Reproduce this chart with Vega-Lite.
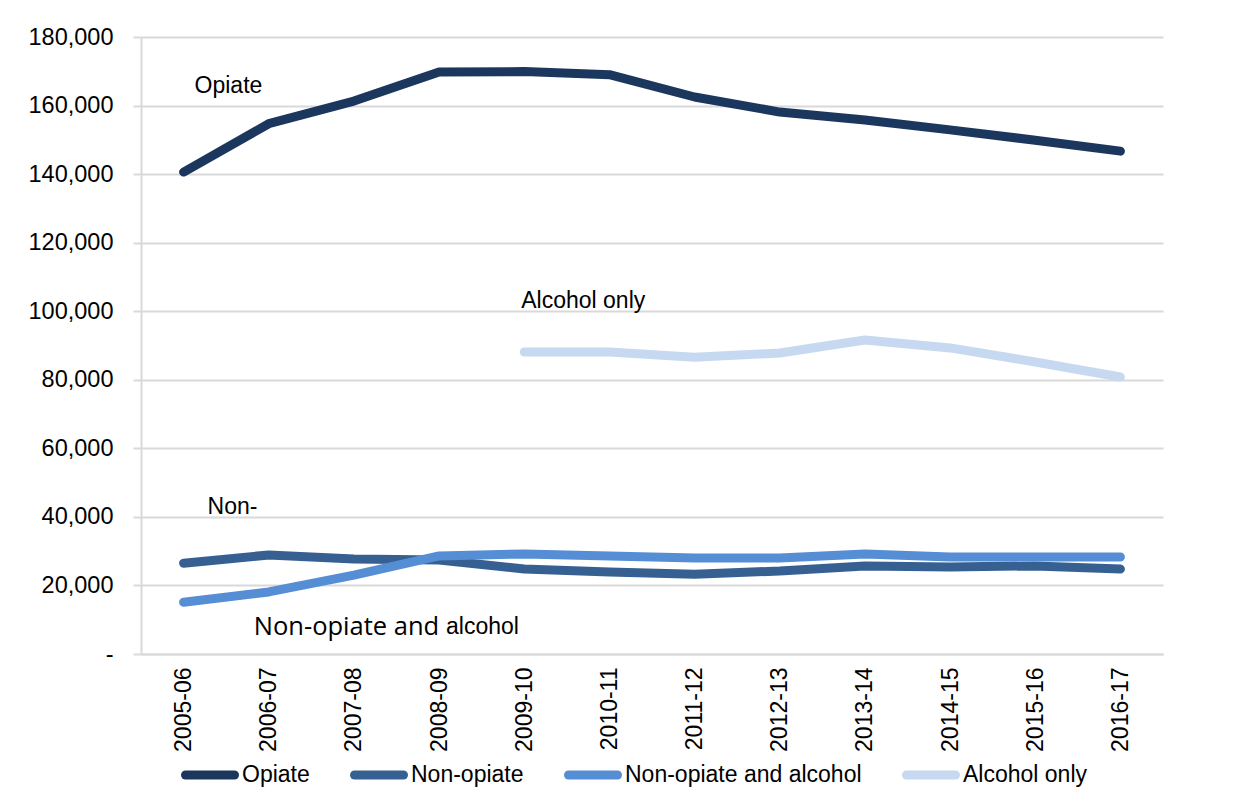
{
  "$schema": "https://vega.github.io/schema/vega-lite/v6.json",
  "autosize": "none",
  "width": 1022,
  "height": 617,
  "padding": {"left": 141, "top": 37, "right": 81, "bottom": 153},
  "background": "white",
  "config": {
    "view": {"stroke": null},
    "font": "Liberation Sans",
    "axis": {
      "labelFont": "Liberation Sans",
      "labelColor": "#000000",
      "domainColor": "#d9d9d9",
      "domainWidth": 2,
      "tickColor": "#d9d9d9",
      "tickWidth": 2,
      "gridColor": "#d9d9d9",
      "gridWidth": 2,
      "title": null
    }
  },
  "datasets": {
    "series": [
      {"period": "2005-06", "group": "Opiate", "count": 140600},
      {"period": "2006-07", "group": "Opiate", "count": 154700},
      {"period": "2007-08", "group": "Opiate", "count": 161300},
      {"period": "2008-09", "group": "Opiate", "count": 169800},
      {"period": "2009-10", "group": "Opiate", "count": 169900},
      {"period": "2010-11", "group": "Opiate", "count": 169000},
      {"period": "2011-12", "group": "Opiate", "count": 162500},
      {"period": "2012-13", "group": "Opiate", "count": 158100},
      {"period": "2013-14", "group": "Opiate", "count": 155800},
      {"period": "2014-15", "group": "Opiate", "count": 152900},
      {"period": "2015-16", "group": "Opiate", "count": 149900},
      {"period": "2016-17", "group": "Opiate", "count": 146700},
      {"period": "2005-06", "group": "Non-opiate", "count": 26500},
      {"period": "2006-07", "group": "Non-opiate", "count": 28900},
      {"period": "2007-08", "group": "Non-opiate", "count": 27700},
      {"period": "2008-09", "group": "Non-opiate", "count": 27400},
      {"period": "2009-10", "group": "Non-opiate", "count": 24800},
      {"period": "2010-11", "group": "Non-opiate", "count": 23900},
      {"period": "2011-12", "group": "Non-opiate", "count": 23300},
      {"period": "2012-13", "group": "Non-opiate", "count": 24200},
      {"period": "2013-14", "group": "Non-opiate", "count": 25700},
      {"period": "2014-15", "group": "Non-opiate", "count": 25400},
      {"period": "2015-16", "group": "Non-opiate", "count": 25700},
      {"period": "2016-17", "group": "Non-opiate", "count": 24800},
      {"period": "2005-06", "group": "Non-opiate and alcohol", "count": 15100},
      {"period": "2006-07", "group": "Non-opiate and alcohol", "count": 18100},
      {"period": "2007-08", "group": "Non-opiate and alcohol", "count": 23000},
      {"period": "2008-09", "group": "Non-opiate and alcohol", "count": 28600},
      {"period": "2009-10", "group": "Non-opiate and alcohol", "count": 29200},
      {"period": "2010-11", "group": "Non-opiate and alcohol", "count": 28600},
      {"period": "2011-12", "group": "Non-opiate and alcohol", "count": 28000},
      {"period": "2012-13", "group": "Non-opiate and alcohol", "count": 28000},
      {"period": "2013-14", "group": "Non-opiate and alcohol", "count": 29200},
      {"period": "2014-15", "group": "Non-opiate and alcohol", "count": 28300},
      {"period": "2015-16", "group": "Non-opiate and alcohol", "count": 28300},
      {"period": "2016-17", "group": "Non-opiate and alcohol", "count": 28300},
      {"period": "2009-10", "group": "Alcohol only", "count": 88100},
      {"period": "2010-11", "group": "Alcohol only", "count": 88100},
      {"period": "2011-12", "group": "Alcohol only", "count": 86600},
      {"period": "2012-13", "group": "Alcohol only", "count": 87800},
      {"period": "2013-14", "group": "Alcohol only", "count": 91600},
      {"period": "2014-15", "group": "Alcohol only", "count": 89300},
      {"period": "2015-16", "group": "Alcohol only", "count": 85200},
      {"period": "2016-17", "group": "Alcohol only", "count": 80800}
    ],
    "notes": [
      {"key": "opiate", "text": "Opiate", "period": "2005-06", "count": 165700},
      {"key": "alcohol", "text": "Alcohol only", "period": "2009-10", "count": 103000},
      {"key": "nonop", "text": "Non-", "period": "2005-06", "count": 42900},
      {"key": "nonopalc1", "text": "Non-opiate and", "period": "2006-07", "count": 7900},
      {"key": "nonopalc2", "text": "alcohol", "period": "2008-09", "count": 7900}
    ]
  },
  "encoding": {
    "x": {
      "field": "period",
      "type": "ordinal",
      "scale": {"type": "point", "padding": 0.5},
      "axis": {
        "labelAngle": -90,
        "labelFontSize": 23,
        "ticks": false,
        "domain": true,
        "labelPadding": 13,
        "grid": false
      }
    },
    "y": {
      "field": "count",
      "type": "quantitative",
      "scale": {"domain": [0, 180000], "nice": false, "zero": true},
      "axis": {
        "values": [0, 20000, 40000, 60000, 80000, 100000, 120000, 140000, 160000, 180000],
        "labelExpr": "datum.value == 0 ? '-' : format(datum.value, ',')",
        "labelFontSize": 23.5,
        "tickSize": 8,
        "labelPadding": 20,
        "grid": true,
        "domain": true
      }
    }
  },
  "layer": [
    {
      "data": {"name": "series"},
      "mark": {"type": "line", "strokeWidth": 9, "strokeCap": "round", "strokeJoin": "round"},
      "encoding": {
        "color": {
          "field": "group",
          "type": "nominal",
          "sort": ["Opiate", "Non-opiate", "Non-opiate and alcohol", "Alcohol only"],
          "scale": {
            "domain": ["Opiate", "Non-opiate", "Non-opiate and alcohol", "Alcohol only"],
            "range": ["#1c375e", "#376092", "#558ed5", "#c6d9f1"]
          },
          "legend": {
            "title": null,
            "orient": "none",
            "direction": "horizontal",
            "legendX": 40,
            "legendY": 709,
            "symbolType": "stroke",
            "symbolSize": 2400,
            "symbolStrokeWidth": 9,
            "labelFont": "Liberation Sans",
            "labelFontSize": 23,
            "labelColor": "#000000",
            "labelOffset": 3,
            "labelLimit": 400,
            "columnPadding": 26,
            "encode": {"symbols": {"update": {"strokeCap": {"value": "round"}}}}
          }
        }
      }
    },
    {
      "data": {"name": "notes"},
      "transform": [{"filter": "datum.key == 'opiate'"}],
      "mark": {"type": "text", "align": "left", "baseline": "middle", "fontSize": 23, "dx": 11, "font": "Liberation Sans"},
      "encoding": {"text": {"field": "text"}}
    },
    {
      "data": {"name": "notes"},
      "transform": [{"filter": "datum.key == 'alcohol'"}],
      "mark": {"type": "text", "align": "left", "baseline": "middle", "fontSize": 23, "dx": -3, "font": "Liberation Sans"},
      "encoding": {"text": {"field": "text"}}
    },
    {
      "data": {"name": "notes"},
      "transform": [{"filter": "datum.key == 'nonop'"}],
      "mark": {"type": "text", "align": "left", "baseline": "middle", "fontSize": 23, "dx": 24, "font": "Liberation Sans"},
      "encoding": {"text": {"field": "text"}}
    },
    {
      "data": {"name": "notes"},
      "transform": [{"filter": "datum.key == 'nonopalc1'"}],
      "mark": {"type": "text", "align": "left", "baseline": "middle", "fontSize": 25.5, "dx": -15, "font": "Open Sans"},
      "encoding": {"text": {"field": "text"}}
    },
    {
      "data": {"name": "notes"},
      "transform": [{"filter": "datum.key == 'nonopalc2'"}],
      "mark": {"type": "text", "align": "left", "baseline": "middle", "fontSize": 23, "dx": 7, "font": "Liberation Sans"},
      "encoding": {"text": {"field": "text"}}
    }
  ]
}
